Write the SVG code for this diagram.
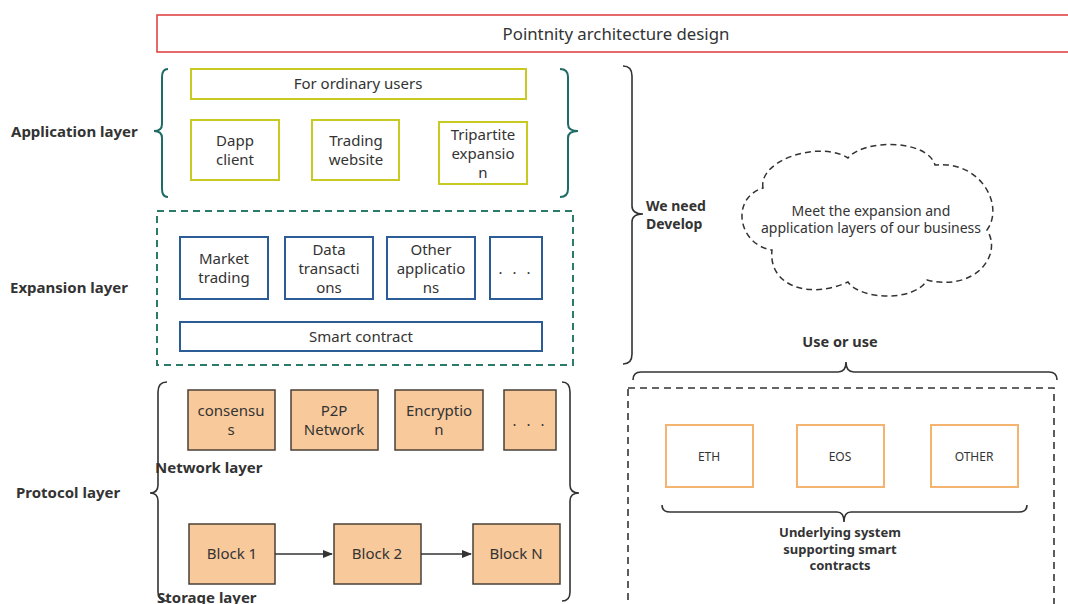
<svg xmlns="http://www.w3.org/2000/svg" width="1068" height="604" viewBox="0 0 1068 604">
  <style>
    text { font-family: "Noto Sans", "Open Sans", "Liberation Sans", sans-serif; fill: #333; }
    .box { font-size: 15px; text-anchor: middle; }
    .small { font-size: 12px; text-anchor: middle; }
    .lbl { font-size: 15px; font-weight: bold; }
    .app { fill: #fff; stroke: #c9c923; stroke-width: 2; }
    .exp { fill: #fff; stroke: #2b5c96; stroke-width: 2; }
    .net { fill: #f8c99b; stroke: #4a4036; stroke-width: 1.5; }
    .chain { fill: none; stroke: #f4b36e; stroke-width: 2; }
    .brace-teal { fill: none; stroke: #1f6b66; stroke-width: 2; }
    .brace { fill: none; stroke: #333; stroke-width: 1.6; }
  </style>
  <defs>
    <marker id="arrow" markerWidth="10" markerHeight="8" refX="9" refY="4" orient="auto" markerUnits="userSpaceOnUse">
      <path d="M0,0 L10,4 L0,8 Z" fill="#333"/>
    </marker>
  </defs>
  <rect width="1068" height="604" fill="#fff"/>

  <!-- Title -->
  <g id="title">
    <rect x="157" y="15" width="915" height="37" fill="#fff" stroke="#e03a3a" stroke-width="1.5"/>
    <text x="616" y="40" class="box" style="font-size:16.8px">Pointnity architecture design</text>
  </g>

  <!-- Application layer -->
  <g id="application-layer">
    <text x="11" y="137" class="lbl">Application layer</text>
    <path class="brace-teal" d="M168,69 Q162,69 162,77 L162,124 Q162,131 154,131 Q162,131 162,138 L162,189 Q162,197 168,197"/>
    <path class="brace-teal" d="M560,69 Q568,69 568,77 L568,124 Q568,131 578,131 Q568,131 568,138 L568,189 Q568,197 560,197"/>
  </g>
  <g id="ordinary-users">
    <rect class="app" x="191" y="69" width="335" height="30"/>
    <text class="box" x="358" y="89">For ordinary users</text>
  </g>
  <g id="dapp-client">
    <rect class="app" x="191" y="120" width="88" height="60"/>
    <text class="box" x="235" y="146">Dapp</text>
    <text class="box" x="235" y="165">client</text>
  </g>
  <g id="trading-website">
    <rect class="app" x="312" y="120" width="87" height="60"/>
    <text class="box" x="356" y="146">Trading</text>
    <text class="box" x="356" y="165">website</text>
  </g>
  <g id="tripartite">
    <rect class="app" x="439" y="122" width="88" height="62"/>
    <text class="box" x="483" y="140">Tripartite</text>
    <text class="box" x="483" y="159">expansio</text>
    <text class="box" x="483" y="178">n</text>
  </g>

  <!-- Expansion layer -->
  <g id="expansion-layer">
    <text x="10" y="293" class="lbl">Expansion layer</text>
    <rect x="157" y="211" width="416" height="154" fill="none" stroke="#2a7b69" stroke-width="2" stroke-dasharray="7,5"/>
  </g>
  <g id="market-trading">
    <rect class="exp" x="180" y="237" width="88" height="62"/>
    <text class="box" x="224" y="264">Market</text>
    <text class="box" x="224" y="283">trading</text>
  </g>
  <g id="data-transactions">
    <rect class="exp" x="285" y="237" width="88" height="62"/>
    <text class="box" x="329" y="255">Data</text>
    <text class="box" x="329" y="274">transacti</text>
    <text class="box" x="329" y="293">ons</text>
  </g>
  <g id="other-applications">
    <rect class="exp" x="387" y="237" width="88" height="62"/>
    <text class="box" x="431" y="255">Other</text>
    <text class="box" x="431" y="274">applicatio</text>
    <text class="box" x="431" y="293">ns</text>
  </g>
  <g id="expansion-more">
    <rect class="exp" x="490" y="237" width="52" height="62"/>
    <text class="box" x="516" y="274" style="letter-spacing:3px">. . .</text>
  </g>
  <g id="smart-contract">
    <rect class="exp" x="180" y="322" width="362" height="29"/>
    <text class="box" x="361" y="342">Smart contract</text>
  </g>

  <!-- Protocol layer -->
  <g id="protocol-layer">
    <text x="16" y="498" class="lbl">Protocol layer</text>
    <path class="brace" d="M167,382 Q158,382 158,392 L158,485 Q158,493 150,493 Q158,493 158,501 L158,592 Q158,601 167,601"/>
    <path class="brace" d="M562,382 Q570,382 570,392 L570,485 Q570,493 579,493 Q570,493 570,501 L570,592 Q570,601 562,601"/>
    <text x="155" y="473" class="lbl">Network layer</text>
    <text x="157" y="603" class="lbl">Storage layer</text>
  </g>
  <g id="consensus">
    <rect class="net" x="188" y="390" width="87" height="60"/>
    <text class="box" x="231" y="416">consensu</text>
    <text class="box" x="231" y="435">s</text>
  </g>
  <g id="p2p-network">
    <rect class="net" x="291" y="390" width="87" height="60"/>
    <text class="box" x="334" y="416">P2P</text>
    <text class="box" x="334" y="435">Network</text>
  </g>
  <g id="encryption">
    <rect class="net" x="395" y="390" width="88" height="60"/>
    <text class="box" x="439" y="416">Encryptio</text>
    <text class="box" x="439" y="435">n</text>
  </g>
  <g id="network-more">
    <rect class="net" x="504" y="390" width="52" height="60"/>
    <text class="box" x="530" y="426" style="letter-spacing:3px">. . .</text>
  </g>
  <g id="block-1">
    <rect class="net" x="189" y="524" width="86" height="60"/>
    <text class="box" x="232" y="559">Block 1</text>
  </g>
  <g id="block-2">
    <rect class="net" x="334" y="524" width="87" height="60"/>
    <text class="box" x="377" y="559">Block 2</text>
  </g>
  <g id="block-n">
    <rect class="net" x="473" y="524" width="87" height="60"/>
    <text class="box" x="516" y="559">Block N</text>
  </g>

  <!-- Develop scope -->
  <g id="we-need-develop">
    <path class="brace" d="M623,66 Q632,66 632,76 L632,206 Q632,214 643,214 Q632,214 632,222 L632,354 Q632,364 623,364"/>
    <text x="646" y="211" class="lbl" style="font-size:14px">We need</text>
    <text x="646" y="229" class="lbl" style="font-size:14px">Develop</text>
  </g>
  <g id="business-cloud">
    <path d="M763,188 C758,160 820,140 848,158 C865,138 928,140 935,165 C980,160 1005,205 987,230 C1003,255 975,292 927,280 C915,302 860,300 848,282 C808,300 768,285 772,250 C738,245 730,198 763,188 Z" fill="none" stroke="#333" stroke-width="1.5" stroke-dasharray="6,4"/>
    <text class="box" x="871" y="216" style="font-size:14px">Meet the expansion and</text>
    <text class="box" x="871" y="233" style="font-size:14px">application layers of our business</text>
  </g>

  <!-- Underlying systems -->
  <g id="use-or-use">
    <text x="840" y="347" class="lbl" text-anchor="middle" style="font-size:14.5px">Use or use</text>
    <path class="brace" d="M633,380 Q633,372 641,372 L838,372 Q846,372 846,362 Q846,372 854,372 L1049,372 Q1057,372 1057,380"/>
  </g>
  <g id="underlying-systems">
    <rect x="628" y="388" width="426" height="220" fill="none" stroke="#333" stroke-width="1.6" stroke-dasharray="7,5"/>
    <path class="brace" d="M662,505 Q662,512 670,512 L837,512 Q844,512 844,522 Q844,512 851,512 L1019,512 Q1027,512 1027,505"/>
    <text x="840" y="537" class="lbl" text-anchor="middle" style="font-size:13px">Underlying system</text>
    <text x="840" y="554" class="lbl" text-anchor="middle" style="font-size:13px">supporting smart</text>
    <text x="840" y="570" class="lbl" text-anchor="middle" style="font-size:13px">contracts</text>
  </g>
  <g id="eth">
    <rect class="chain" x="666" y="425" width="87" height="62"/>
    <text class="small" x="709" y="461">ETH</text>
  </g>
  <g id="eos">
    <rect class="chain" x="797" y="425" width="87" height="62"/>
    <text class="small" x="840" y="461">EOS</text>
  </g>
  <g id="other">
    <rect class="chain" x="931" y="425" width="87" height="62"/>
    <text class="small" x="974" y="461">OTHER</text>
  </g>

  <!-- Connectors -->
  <g id="connectors" stroke="#333" stroke-width="1.5" fill="none">
    <line x1="275" y1="554" x2="332" y2="554" marker-end="url(#arrow)"/>
    <line x1="421" y1="554" x2="471" y2="554" marker-end="url(#arrow)"/>
  </g>
</svg>
